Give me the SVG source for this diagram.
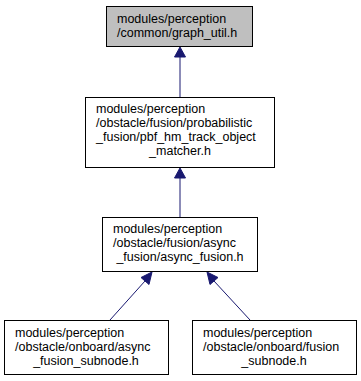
<svg xmlns="http://www.w3.org/2000/svg" width="361" height="381" viewBox="0 0 361 381">
  <style>
    .box { fill: #ffffff; stroke: #000000; stroke-width: 1; }
    .box.current { fill: #bfbfbf; }
    .lbl { font-family: "Liberation Sans", Arial, sans-serif; font-size: 12.5px; fill: #000000; }
    .mid { text-anchor: middle; }
    .edge { stroke: #191970; stroke-width: 1; fill: none; }
    .head { fill: #191970; stroke: #191970; stroke-width: 1; }
  </style>
  <rect width="361" height="381" fill="#ffffff"/>

  <g id="edges">
    <!-- pbf_hm_track_object_matcher.h -> graph_util.h -->
    <path class="edge" d="M180,97 L180,57"/>
    <polygon class="head" points="185.5,57 180,47 174.5,57"/>
    <!-- async_fusion.h -> pbf_hm_track_object_matcher.h -->
    <path class="edge" d="M180,217 L180,178"/>
    <polygon class="head" points="185.5,178 180,168 174.5,178"/>
    <!-- async_fusion_subnode.h -> async_fusion.h -->
    <path class="edge" d="M110,320 L145,281"/>
    <polygon class="head" points="149,284.5 152,272 141,277.5"/>
    <!-- fusion_subnode.h -> async_fusion.h -->
    <path class="edge" d="M250,320 L214,281"/>
    <polygon class="head" points="218,277.5 207,272 210,284.5"/>
  </g>

  <g id="node-graph-util">
    <rect class="box current" x="106.5" y="6.5" width="146" height="40"/>
    <text class="lbl" x="117" y="23">modules/perception</text>
    <text class="lbl" x="117" y="37">/common/graph_util.h</text>
  </g>

  <g id="node-pbf-matcher">
    <rect class="box" x="85.5" y="97.5" width="189" height="70"/>
    <text class="lbl" x="96" y="113">modules/perception</text>
    <text class="lbl" x="96" y="127">/obstacle/fusion/probabilistic</text>
    <text class="lbl" x="96" y="141">_fusion/pbf_hm_track_object</text>
    <text class="lbl mid" x="180" y="155">_matcher.h</text>
  </g>

  <g id="node-async-fusion">
    <rect class="box" x="102.5" y="217.5" width="155" height="54"/>
    <text class="lbl" x="113" y="233">modules/perception</text>
    <text class="lbl" x="113" y="247">/obstacle/fusion/async</text>
    <text class="lbl mid" x="180" y="261">_fusion/async_fusion.h</text>
  </g>

  <g id="node-async-fusion-subnode">
    <rect class="box" x="4.5" y="320.5" width="164" height="54"/>
    <text class="lbl" x="15" y="337">modules/perception</text>
    <text class="lbl" x="15" y="351">/obstacle/onboard/async</text>
    <text class="lbl mid" x="86" y="365">_fusion_subnode.h</text>
  </g>

  <g id="node-fusion-subnode">
    <rect class="box" x="192.5" y="320.5" width="164" height="54"/>
    <text class="lbl" x="203" y="337">modules/perception</text>
    <text class="lbl" x="203" y="351">/obstacle/onboard/fusion</text>
    <text class="lbl mid" x="274" y="365">_subnode.h</text>
  </g>
</svg>
